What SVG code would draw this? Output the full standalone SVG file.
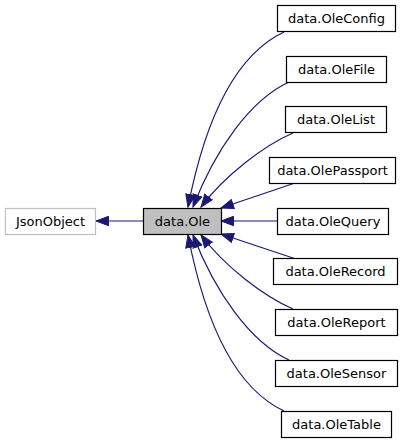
<svg xmlns="http://www.w3.org/2000/svg" width="408" height="443" viewBox="0 0 408 443">
<style>
  .box { fill: #ffffff; stroke: #000000; stroke-width: 1.2; }
  .gray { fill: #ffffff; stroke: #bfbfbf; stroke-width: 1.2; }
  .cur { fill: #bfbfbf; stroke: #000000; stroke-width: 1.2; }
  .lbl { font-family: "DejaVu Sans", sans-serif; font-size: 13px; fill: #000000; text-anchor: middle; }
  .edge { fill: none; stroke: #191970; stroke-width: 1.2; }
</style>
<defs>
  <marker id="arr" markerUnits="userSpaceOnUse" markerWidth="14" markerHeight="11" viewBox="0 0 14 11" refX="13" refY="5.5" orient="auto">
    <path d="M0.5,0.8 L13,5.5 L0.5,10.2 z" fill="#191970" stroke="#191970" stroke-width="1"/>
  </marker>
</defs>
<rect width="408" height="443" fill="#ffffff"/>
<g id="connectors">
  <path class="edge" d="M143,221 L96,221" marker-end="url(#arr)"/>
  <path class="edge" d="M284,32 C235,55 205,120 188,207" marker-end="url(#arr)"/>
  <path class="edge" d="M289,82 C250,100 215,150 193,207" marker-end="url(#arr)"/>
  <path class="edge" d="M293,133 C265,145 225,175 201,207" marker-end="url(#arr)"/>
  <path class="edge" d="M295,183 L221,208" marker-end="url(#arr)"/>
  <path class="edge" d="M277,221 L221,221" marker-end="url(#arr)"/>
  <path class="edge" d="M296,259 L221,234" marker-end="url(#arr)"/>
  <path class="edge" d="M293,309 C265,297 225,267 201,235" marker-end="url(#arr)"/>
  <path class="edge" d="M289,360 C250,342 215,292 193,235" marker-end="url(#arr)"/>
  <path class="edge" d="M284,411 C235,388 205,323 188,235" marker-end="url(#arr)"/>
</g>
<g id="JsonObject">
  <rect class="gray" x="5.5" y="208.5" width="90" height="26"/>
  <text class="lbl" x="50.5" y="226">JsonObject</text>
</g>
<g id="data.Ole">
  <rect class="cur" x="143.5" y="208.5" width="78" height="26"/>
  <text class="lbl" x="182.5" y="226">data.Ole</text>
</g>
<g id="data.OleConfig">
  <rect class="box" x="277.5" y="5.5" width="118" height="26"/>
  <text class="lbl" x="336.5" y="23">data.OleConfig</text>
</g>
<g id="data.OleFile">
  <rect class="box" x="286.5" y="56.5" width="100" height="26"/>
  <text class="lbl" x="336.5" y="74">data.OleFile</text>
</g>
<g id="data.OleList">
  <rect class="box" x="285.5" y="106.5" width="101" height="26"/>
  <text class="lbl" x="336" y="124">data.OleList</text>
</g>
<g id="data.OlePassport">
  <rect class="box" x="269.5" y="157.5" width="126" height="26"/>
  <text class="lbl" x="332.5" y="175">data.OlePassport</text>
</g>
<g id="data.OleQuery">
  <rect class="box" x="277.5" y="208.5" width="111" height="26"/>
  <text class="lbl" x="333" y="226">data.OleQuery</text>
</g>
<g id="data.OleRecord">
  <rect class="box" x="273.5" y="258.5" width="124" height="26"/>
  <text class="lbl" x="335.5" y="276">data.OleRecord</text>
</g>
<g id="data.OleReport">
  <rect class="box" x="275.5" y="309.5" width="122" height="26"/>
  <text class="lbl" x="336.5" y="327">data.OleReport</text>
</g>
<g id="data.OleSensor">
  <rect class="box" x="275.5" y="360.5" width="122" height="26"/>
  <text class="lbl" x="336.5" y="378">data.OleSensor</text>
</g>
<g id="data.OleTable">
  <rect class="box" x="281.5" y="411.5" width="110" height="26"/>
  <text class="lbl" x="336.5" y="429">data.OleTable</text>
</g>
</svg>
